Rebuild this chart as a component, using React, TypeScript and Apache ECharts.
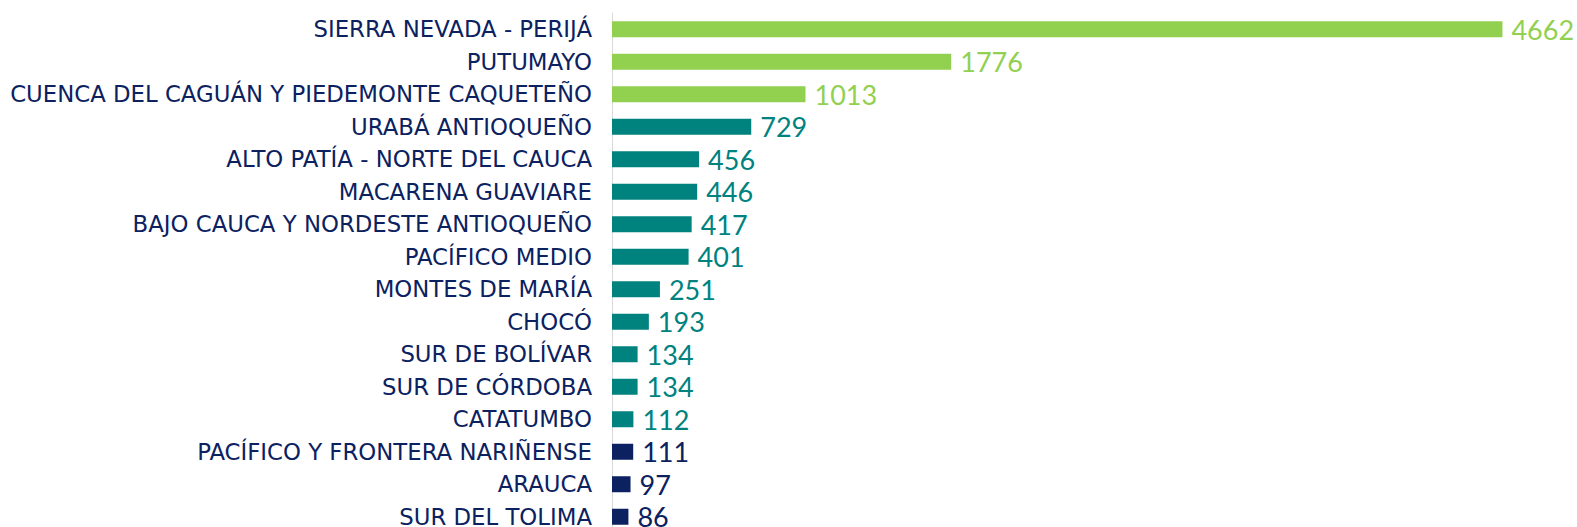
import React, { useEffect, useRef } from "react";
import * as echarts from "echarts";

const categories = [
  "SIERRA NEVADA - PERIJÁ",
  "PUTUMAYO",
  "CUENCA DEL CAGUÁN Y PIEDEMONTE CAQUETEÑO",
  "URABÁ ANTIOQUEÑO",
  "ALTO PATÍA - NORTE DEL CAUCA",
  "MACARENA GUAVIARE",
  "BAJO CAUCA Y NORDESTE ANTIOQUEÑO",
  "PACÍFICO MEDIO",
  "MONTES DE MARÍA",
  "CHOCÓ",
  "SUR DE BOLÍVAR",
  "SUR DE CÓRDOBA",
  "CATATUMBO",
  "PACÍFICO Y FRONTERA NARIÑENSE",
  "ARAUCA",
  "SUR DEL TOLIMA",
];
const values = [4662, 1776, 1013, 729, 456, 446, 417, 401, 251, 193, 134, 134, 112, 111, 97, 86];
const groups = ["g", "g", "g", "t", "t", "t", "t", "t", "t", "t", "t", "t", "t", "n", "n", "n"];
const groupColors: Record<string, string> = { g: "#92d050", t: "#00827f", n: "#0b2160" };

export default function App() {
  const ref = useRef<HTMLDivElement>(null);
  useEffect(() => {
    if (!ref.current) return;
    const chart = echarts.init(ref.current, null, { renderer: "svg" });
    chart.setOption({
      animation: false,
      grid: { left: 612, right: 10, top: 13, bottom: 0, containLabel: false },
      xAxis: {
        type: "value",
        min: 0,
        max: 5000,
        show: false,
      },
      yAxis: {
        type: "category",
        inverse: true,
        data: categories,
        axisLine: { show: true, lineStyle: { color: "#d9d9d9", width: 1 } },
        axisTick: { show: false },
        axisLabel: {
          margin: 20,
          color: "#0b2160",
          fontFamily: "DejaVu Sans",
          fontSize: 22.8,
        },
      },
      series: [
        {
          type: "bar",
          barWidth: 16,
          data: values.map((v, i) => ({
            value: v,
            itemStyle: { color: groupColors[groups[i]] },
            label: { color: groupColors[groups[i]] },
          })),
          label: {
            show: true,
            position: "right",
            distance: 9,
            fontFamily: "Lato",
            fontSize: 27,
          },
        },
      ],
    });
    return () => chart.dispose();
  }, []);
  return (
    <div style={{ position: "absolute", left: 0, top: 0, width: 1577, height: 527, overflow: "hidden" }}>
      <div ref={ref} style={{ width: 1577, height: 533 }} />
    </div>
  );
}
